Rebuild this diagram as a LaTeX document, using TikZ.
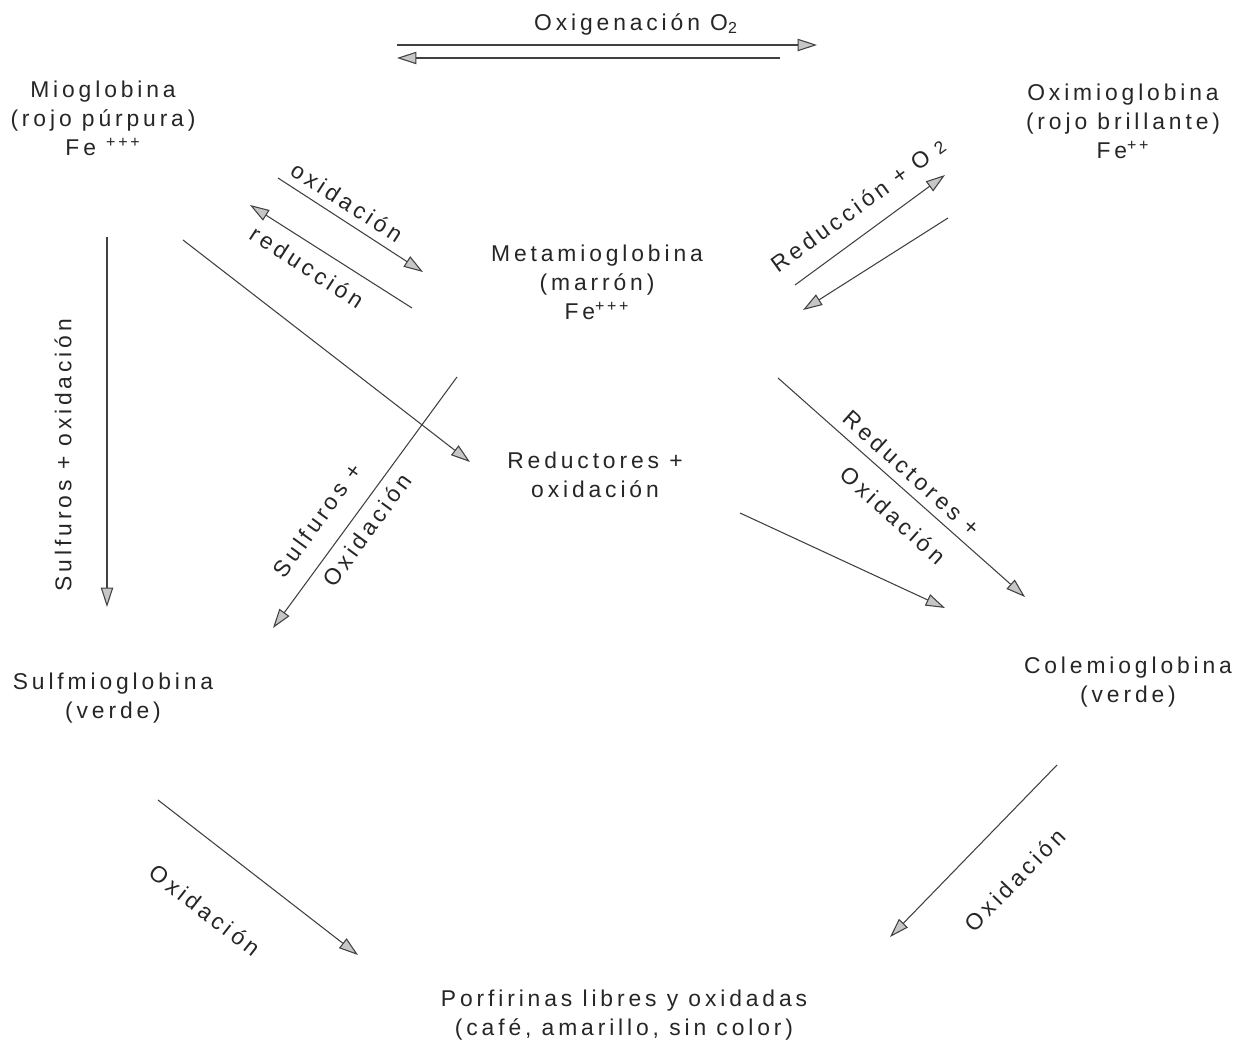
\documentclass[tikz,border=0pt]{standalone}
\usepackage{fontspec}
\setmainfont[LetterSpace=17]{Liberation Sans}
\usetikzlibrary{arrows.meta}
\begin{document}
\begin{tikzpicture}[x=0.02cm,y=-0.02cm,
  txt/.style={font=\fontsize{13}{16.5}\selectfont, align=center, inner sep=0pt, text=black!85},
  conn/.style={draw=black!75, line width=0.6pt, -{Triangle[length=11pt,width=7pt,fill=gray!45]}},
]
\useasboundingbox[fill=white] (0,0) rectangle (1243,1053);

% compounds
\node[txt] (mio) at (103,118) {Mioglobina\\(rojo púrpura)\\Fe \textsuperscript{+++}};
\node[txt] (oxi) at (1123,121) {Oximioglobina\\(rojo brillante)\\Fe\textsuperscript{++}};
\node[txt] (meta) at (597,282) {Metamioglobina\\(marrón)\\Fe\textsuperscript{+++}};
\node[txt] (red) at (595,475) {Reductores +\\oxidación};
\node[txt] (sulf) at (113,698) {Sulfmioglobina\\(verde)};
\node[txt] (cole) at (1128,682) {Colemioglobina\\(verde)};
\node[txt] (porf) at (624,1015) {Porfirinas libres y oxidadas\\(café, amarillo, sin color)};
\node[txt] (oxig) at (636,24) {Oxigenación O\textsubscript{2}};

% arrow end points
\coordinate (a1s) at (397,45);  \coordinate (a1e) at (817,45);
\coordinate (a2s) at (780,58);  \coordinate (a2e) at (397,58);
\coordinate (b1s) at (278,178); \coordinate (b1e) at (423,272);
\coordinate (b2s) at (412,308); \coordinate (b2e) at (250,205);
\coordinate (c1s) at (183,240); \coordinate (c1e) at (470,462);
\coordinate (d1s) at (107,237); \coordinate (d1e) at (107,607);
\coordinate (e1s) at (457,377); \coordinate (e1e) at (273,628);
\coordinate (f1s) at (795,285); \coordinate (f1e) at (945,175);
\coordinate (f2s) at (948,218); \coordinate (f2e) at (803,310);
\coordinate (g1s) at (778,378); \coordinate (g1e) at (1025,597);
\coordinate (g2s) at (740,513); \coordinate (g2e) at (945,608);
\coordinate (h1s) at (158,800); \coordinate (h1e) at (358,955);
\coordinate (h2s) at (1057,765);\coordinate (h2e) at (890,937);

\draw[conn] (a1s) -- (a1e);
\draw[conn] (a2s) -- (a2e);
\draw[conn] (b1s) -- (b1e);
\draw[conn] (b2s) -- (b2e);
\draw[conn] (c1s) -- (c1e);
\draw[conn] (d1s) -- (d1e);
\draw[conn] (e1s) -- (e1e);
\draw[conn] (f1s) -- (f1e);
\draw[conn] (f2s) -- (f2e);
\draw[conn] (g1s) -- (g1e);
\draw[conn] (g2s) -- (g2e);
\draw[conn] (h1s) -- (h1e);
\draw[conn] (h2s) -- (h2e);

% labels
\node[txt, rotate=-33] (l1) at (347,202) {oxidación};
\node[txt, rotate=-33] (l2) at (307,267) {reducción};
\node[txt, rotate=90] (l3) at (63,455) {Sulfuros + oxidación};
\node[txt, rotate=54] (l4) at (317,520) {Sulfuros +};
\node[txt, rotate=54] (l5) at (367,530) {Oxidación};
\node[txt, rotate=36] (l6) at (858,205) {Reducción + O\hspace{0.4em}{\fontsize{10}{12}\selectfont 2}};
\node[txt, rotate=-42] (l7) at (912,473) {Reductores +};
\node[txt, rotate=-42] (l8) at (893,515) {Oxidación};
\node[txt, rotate=-38] (l9) at (205,910) {Oxidación};
\node[txt, rotate=46] (l10) at (1015,880) {Oxidación};
\end{tikzpicture}
\end{document}
